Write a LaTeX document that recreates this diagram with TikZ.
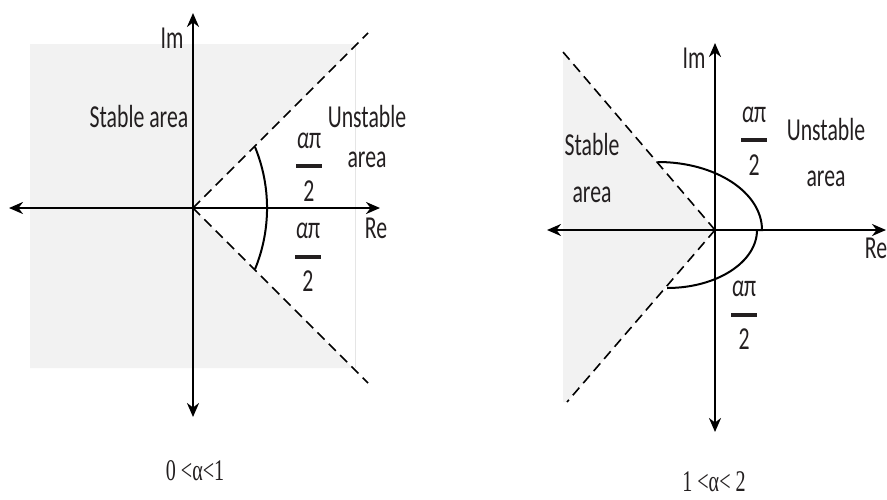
\documentclass[tikz,border=0pt]{standalone}
\usepackage{fontspec}
\newfontfamily\labelfont{Carlito}[FakeStretch=0.68]
\newfontfamily\capfont{Liberation Serif}[FakeStretch=0.67]
\usetikzlibrary{arrows.meta}

\definecolor{stablegray}{HTML}{F2F2F2}
\definecolor{inkcol}{HTML}{231F20}
% half sector angle label
\newcommand{\halfangle}{\shortstack{{\itshape α}π\\[5pt]\rule{13pt}{2pt}\\[3pt]2}}

\begin{document}
\begin{tikzpicture}[x=0.5pt, y=-0.5pt,
    axis/.style={line width=1.3pt, {Stealth[length=7pt,width=6pt]}-{Stealth[length=7pt,width=6pt]}},
    border/.style={line width=0.8pt, dash pattern=on 5pt off 3pt},
    sector/.style={line width=1pt},
    lbl/.style={font=\labelfont\fontsize{16}{20}\selectfont, text=inkcol, align=center, inner sep=0pt},
    rangecap/.style={font=\capfont\fontsize{15}{17}\selectfont, text=inkcol, inner sep=0pt}]
    \useasboundingbox (0,0) rectangle (887,499);

    % left plane: 0 < alpha < 1
    \coordinate (o1) at (193,208);
    \fill[stablegray] (30,44) -- (357,44) -- (o1) -- (353,368) -- (30,368) -- cycle;
    \draw[black!10, line width=0.4pt] (355,44) -- (355,368);
    \draw[border] (o1) -- (368,33);
    \draw[border] (o1) -- (368,383);
    \draw[axis] (9,208) -- (380,208);
    \draw[axis] (193,13) -- (193,417);
    \draw[sector] (255,147) arc[start angle=-22.3, end angle=22.3, radius=161];

    \node[lbl] (im1) at (172,38) {Im};
    \node[lbl] (re1) at (376,228) {Re};
    \node[lbl] (st1) at (139,117) {Stable area};
    \node[lbl] (un1) at (367,137) {Unstable\\area};
    \node[lbl] (up1) at (309,167) {\halfangle};
    \node[lbl] (lo1) at (308,257) {\halfangle};
    \node[rangecap] (cap1) at (195,471) {0 <α<1};

    % right plane: 1 < alpha < 2
    \coordinate (o2) at (715,230);
    \fill[stablegray] (563,52) -- (o2) -- (567,402) -- (563,402) -- cycle;
    \draw[border] (o2) -- (563,52);
    \draw[border] (o2) -- (567,402);
    \draw[axis] (547,230) -- (886,230);
    \draw[axis] (715,43) -- (715,432);
    \draw[sector] (658,162) .. controls (715,162) and (762,192) .. (762,230)
        -- (757,230) .. controls (757,262) and (717,288) .. (667,288);

    \node[lbl] (im2) at (694,58) {Im};
    \node[lbl] (re2) at (876,248) {Re};
    \node[lbl] (st2) at (592,168) {Stable\\[3pt]area};
    \node[lbl] (un2) at (826,153) {Unstable\\[3pt]area};
    \node[lbl] (up2) at (754,141) {\halfangle};
    \node[lbl] (lo2) at (744,315) {\halfangle};
    \node[rangecap] (cap2) at (714,482) {1 <α< 2};
\end{tikzpicture}
\end{document}
